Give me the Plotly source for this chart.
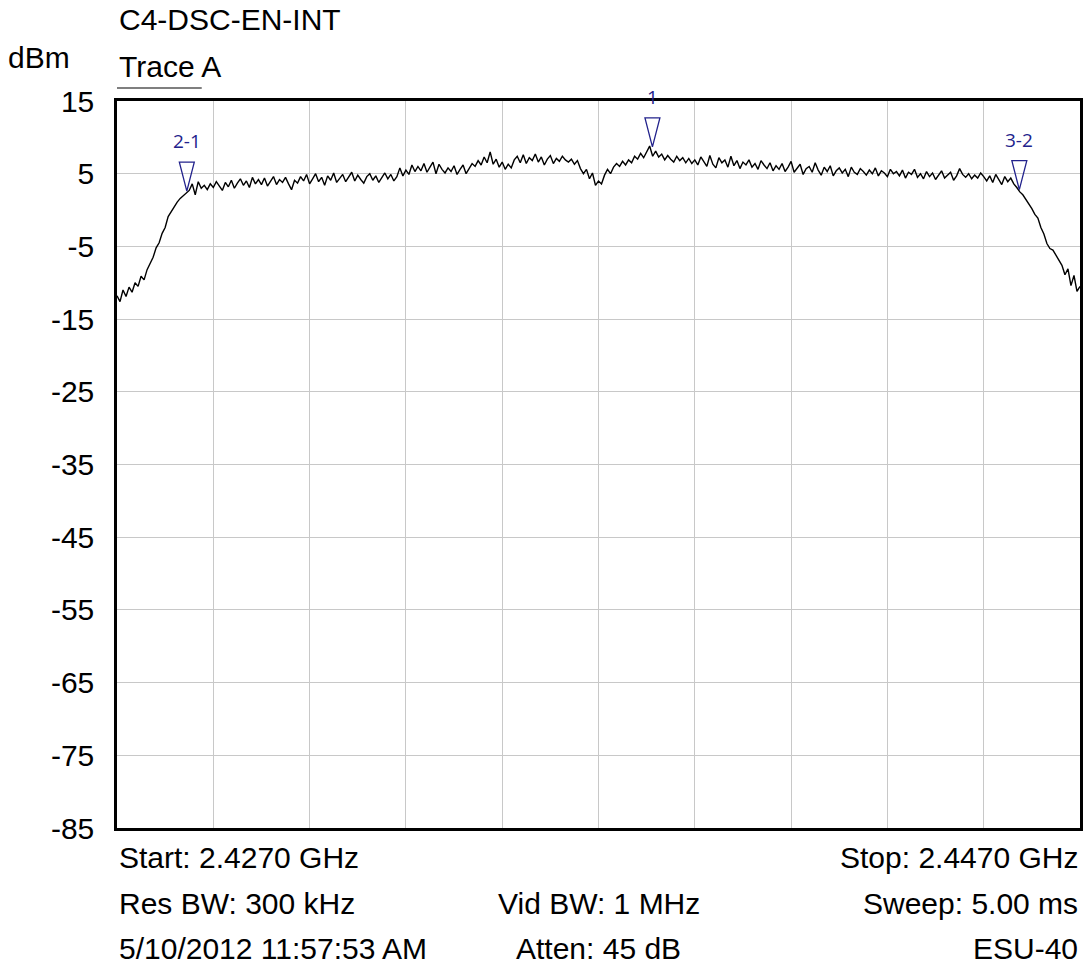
import plotly.graph_objects as go

# ---- data ----
start_ghz = 2.427
stop_ghz = 2.447
trace_dbm = [
    -11.8, -12.6, -11.0, -11.9, -10.6, -11.3, -10.0, -10.5, -9.1, -9.6,
    -8.2, -7.4, -6.5, -5.2, -4.5, -3.2, -2.4, -0.9, -0.2, 0.6,
    1.1, 1.6, 2.0, 2.4, 2.7, 3.6, 2.1, 3.9, 3.0, 3.4,
    2.8, 3.6, 3.1, 3.9, 3.3, 2.7, 3.8, 3.2, 4.1, 3.0,
    3.7, 4.3, 3.4, 4.0, 3.1, 4.5, 3.6, 4.2, 3.5, 4.4,
    3.3, 4.0, 4.6, 3.5, 4.2, 3.8, 4.5, 3.6, 2.8, 4.1,
    3.7, 4.6, 4.0, 4.9, 3.6, 4.3, 5.0, 3.9, 4.5, 3.4,
    4.7, 4.1, 5.1, 3.8, 4.4, 4.9, 3.9, 4.6, 5.2, 4.0,
    4.8, 4.2, 3.7, 4.6, 5.0, 4.1, 4.7, 3.8, 4.5, 5.1,
    4.3, 4.9, 4.0, 4.6, 5.8, 4.7, 5.5, 4.9, 6.2, 5.3,
    6.0, 5.4, 6.4, 5.2, 5.9, 6.6, 5.0, 6.3, 5.6, 5.1,
    5.8, 5.3, 6.1, 4.9, 5.6, 6.2, 5.0, 5.7, 6.4, 6.0,
    6.8, 6.2, 7.3, 6.5, 8.0, 6.3, 7.0, 5.9, 6.6, 5.6,
    6.3, 5.8, 6.9, 7.4, 6.5, 7.6, 6.4, 7.2, 6.8, 7.7,
    6.6, 7.3, 6.2, 7.0, 7.5, 6.4, 7.1, 6.7, 7.4, 6.9,
    6.6, 7.0, 6.3, 6.8, 5.7, 5.0, 5.6, 4.3, 5.1, 3.4,
    4.0, 3.6, 4.8, 5.6, 5.0, 5.9, 6.4, 6.0, 6.7, 6.2,
    6.9, 6.5, 7.4, 7.0, 7.8, 7.2, 7.9, 8.8, 7.4, 8.1,
    7.3, 7.7, 6.9, 7.5, 7.0, 6.6, 7.4, 6.8, 7.2, 6.5,
    7.1, 6.4, 6.9, 6.2, 7.3, 6.7, 6.0, 7.5, 6.3, 5.8,
    7.2, 6.5, 6.9, 5.9, 7.4, 6.1, 6.8, 5.7, 6.6, 6.2,
    6.9, 5.9, 6.4, 5.6, 6.8, 6.2, 5.7, 6.5, 5.4, 6.1,
    5.6, 6.4, 5.3, 5.9, 6.7, 5.2, 5.8, 6.3, 4.9, 5.7,
    6.0, 5.2, 6.5, 5.5, 4.8, 5.9, 5.3, 6.1, 4.7, 5.4,
    5.8, 5.1, 5.6, 4.6, 5.9, 5.2, 4.9, 5.7, 5.3, 4.8,
    5.5, 5.0, 5.8, 4.7, 5.4, 5.1, 4.6, 5.6, 5.0, 5.3,
    4.7, 5.5, 4.4, 5.2, 4.9, 5.6, 4.5, 5.0, 4.3, 5.3,
    4.6, 5.1, 4.2, 4.9, 5.4, 4.4, 4.8, 5.2, 4.1, 4.7,
    5.7, 4.9, 4.5, 5.0, 4.3, 4.8, 4.4, 5.1, 4.6, 4.0,
    4.7, 3.8, 4.9, 4.2, 3.5, 4.6, 3.9, 4.4, 3.6, 3.1,
    2.5, 2.1, 1.5, 0.9, 0.2, -0.6, -1.1, -2.4, -3.3, -4.6,
    -5.3, -5.5, -6.2, -6.9, -7.6, -8.9, -8.1, -10.4, -9.0, -11.2,
    -10.5,
]
marker_labels = ["2-1", "1", "3-2"]
marker_freq_ghz = [2.42845, 2.43812, 2.44574]
marker_dbm = [2.6, 8.7, 2.8]

y_min, y_max = -85, 15
y_tick_values = [15, 5, -5, -15, -25, -35, -45, -55, -65, -75, -85]
y_tick_labels = ["15", "5", "-5", "-15", "-25", "-35", "-45", "-55", "-65", "-75", "-85"]
x_divisions = 10

title_text = "C4-DSC-EN-INT"
unit_text = "dBm"
trace_name = "Trace A"
footer_left = ["Start: 2.4270 GHz", "Res BW: 300 kHz", "5/10/2012 11:57:53 AM"]
footer_center = ["", "Vid BW: 1 MHz", "Atten: 45 dB"]
footer_right = ["Stop: 2.4470 GHz", "Sweep: 5.00 ms", "ESU-40"]

# ---- figure ----
n = len(trace_dbm)
freqs = [start_ghz + (stop_ghz - start_ghz) * i / (n - 1) for i in range(n)]

W, H = 1085, 970
ml, mr, mt, mb = 117, 2, 101, 142
pw, ph = W - ml - mr, H - mt - mb

def py(px):  # pixel y -> paper y
    return (H - mb - px) / ph

def pxx(px):
    return (px - ml) / pw

FONT = "Liberation Sans, Arial, sans-serif"
MCOL = "#22228c"
fs = 30

fig = go.Figure()
fig.add_trace(go.Scatter(x=freqs, y=trace_dbm, mode="lines",
                         line=dict(color="black", width=1.4),
                         hoverinfo="skip", showlegend=False))

span = stop_ghz - start_ghz
half_w = span * 7.5 / pw
tri_h = (y_max - y_min) * 29 / ph
for lab, f, v in zip(marker_labels, marker_freq_ghz, marker_dbm):
    fig.add_trace(go.Scatter(
        x=[f, f - half_w, f + half_w, f],
        y=[v, v + tri_h, v + tri_h, v],
        mode="lines", line=dict(color=MCOL, width=1.3),
        hoverinfo="skip", showlegend=False))
    fig.add_annotation(x=f, y=v + tri_h, xref="x", yref="y",
                       text=lab, showarrow=False, yanchor="bottom", yshift=6,
                       font=dict(family="Open Sans, sans-serif", size=19, color=MCOL))

fig.update_xaxes(range=[start_ghz, stop_ghz], tick0=start_ghz, dtick=span / x_divisions,
                 showticklabels=False, showgrid=True, gridcolor="#c8c8c8",
                 gridwidth=1.3, zeroline=False, showline=True, linecolor="black",
                 linewidth=2.5, mirror=True, ticks="")
fig.update_yaxes(range=[y_min, y_max], tickmode="array",
                 tickvals=y_tick_values, ticktext=y_tick_labels,
                 showgrid=True, gridcolor="#c8c8c8", gridwidth=1.3,
                 zeroline=False, showline=True, linecolor="black",
                 linewidth=2.5, mirror=True, ticks="outside", ticklen=14,
                 tickcolor="rgba(0,0,0,0)",
                 tickfont=dict(family=FONT, size=fs, color="black"))

ann = dict(showarrow=False, xref="paper", yref="paper",
           font=dict(family=FONT, size=fs, color="black"))
fig.add_annotation(text=title_text, x=0, y=py(20), xanchor="left", yanchor="middle", **ann)
fig.add_annotation(text=unit_text, x=pxx(6), y=py(57), xanchor="left", yanchor="middle", **ann)
fig.add_annotation(text=trace_name, x=0, y=py(66), xanchor="left", yanchor="middle", **ann)
fig.add_shape(type="line", xref="paper", yref="paper", x0=0, x1=pxx(202),
              y0=py(88), y1=py(88), line=dict(color="black", width=1.2))

row_y = [857, 903, 948]
for ry, l, c, r in zip(row_y, footer_left, footer_center, footer_right):
    if l:
        fig.add_annotation(text=l, x=0, y=py(ry), xanchor="left", yanchor="middle", **ann)
    if c:
        fig.add_annotation(text=c, x=0.5, y=py(ry), xanchor="center", yanchor="middle", **ann)
    if r:
        fig.add_annotation(text=r, x=1, y=py(ry), xanchor="right", yanchor="middle", **ann)

fig.update_layout(width=W, height=H, margin=dict(l=ml, r=mr, t=mt, b=mb),
                  paper_bgcolor="white", plot_bgcolor="white",
                  showlegend=False)

fig.write_html("out.html", config={"displayModeBar": False})

with open("out.html", "r", encoding="utf-8") as fh:
    html = fh.read()
html = html.replace("<body>", '<body style="margin:0;padding:0;overflow:hidden">', 1)
with open("out.html", "w", encoding="utf-8") as fh:
    fh.write(html)
